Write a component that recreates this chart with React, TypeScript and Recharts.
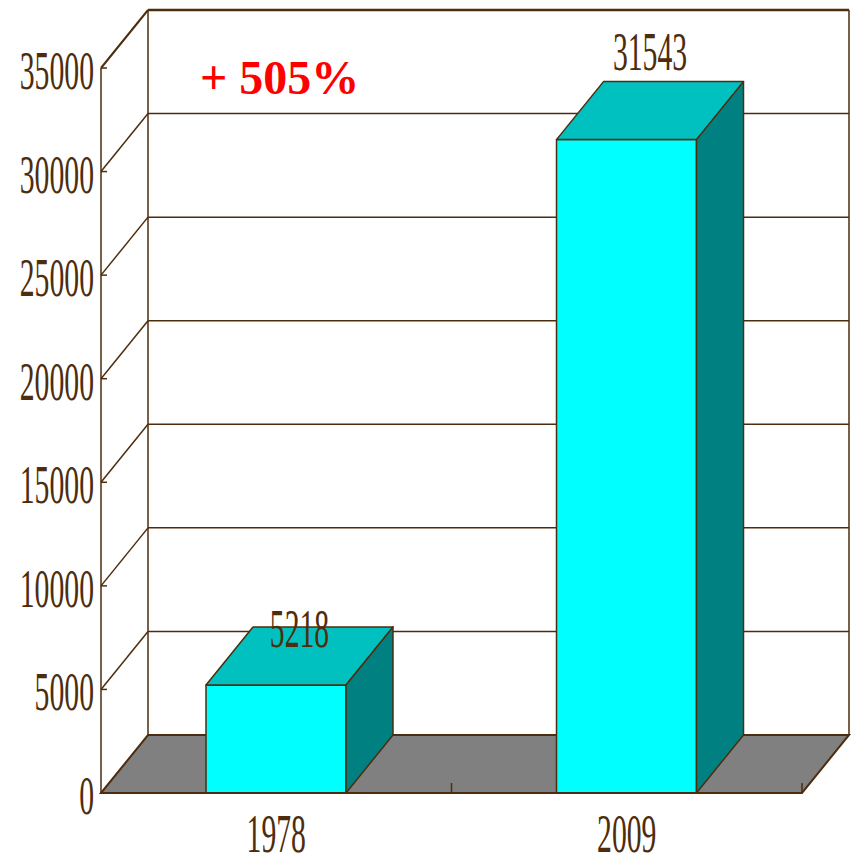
import { Bar, BarChart, CartesianGrid, LabelList, XAxis, YAxis } from 'recharts';

const years = ['1978', '2009'];
const values = [5218, 31543];
const yTicks = [0, 5000, 10000, 15000, 20000, 25000, 30000, 35000];

const data = years.map((year, i) => ({ year, value: values[i] }));

// growth between the first and last year, shown as the red note
const growth = Math.round(((values[values.length - 1] - values[0]) / values[0]) * 100);

const INK = '#4d2d0d';
const FONT = '"Liberation Serif", "Times New Roman", serif';
const SQUEEZE = 0.55; // narrow figures
const DX = 47; // depth of the 3D box, to the right
const DY = -58; // depth of the 3D box, upwards
const labelLift = [38, 70];

const FRONT = '#00ffff';
const TOP = '#00c0c0';
const SIDE = '#008080';
const FLOOR = '#808080';

function WallLine(props: any) {
  const { x1, y1, x2, y2, x, y, width, height } = props;
  const bottom = y + height;
  const isFloor = Math.abs(y1 - bottom) < 0.5;
  const isTop = Math.abs(y1 - y) < 0.5;

  if (isFloor) {
    const step = width / years.length;
    return (
      <g>
        <polygon
          points={`${x1},${y1} ${x1 + DX},${y1 + DY} ${x2 + DX},${y2 + DY} ${x2},${y2}`}
          fill={FLOOR}
          stroke={INK}
          strokeWidth={2}
        />
        {years.map((_, i) => {
          const tx = x + step * (i + 1);
          return <line key={i} x1={tx} y1={y1} x2={tx} y2={y1 - 10} stroke={INK} strokeWidth={1.5} />;
        })}
      </g>
    );
  }

  return (
    <g>
      <line x1={x1} y1={y1} x2={x1 + DX} y2={y1 + DY} stroke={INK} strokeWidth={isTop ? 2 : 1.5} />
      <line x1={x1 + DX} y1={y1 + DY} x2={x2 + DX} y2={y2 + DY} stroke={INK} strokeWidth={isTop ? 2.5 : 1.5} />
      {isTop && (
        <>
          <line x1={x + DX} y1={y + DY} x2={x + DX} y2={bottom + DY} stroke={INK} strokeWidth={1.5} />
          <line x1={x + width + DX} y1={y + DY} x2={x + width + DX} y2={bottom + DY} stroke={INK} strokeWidth={1.5} />
        </>
      )}
    </g>
  );
}

function Box(props: any) {
  const { x, y, width, height } = props;
  return (
    <g stroke={INK} strokeWidth={1.5} strokeLinejoin="round">
      <rect x={x} y={y} width={width} height={height} fill={FRONT} />
      <polygon
        points={`${x},${y} ${x + DX},${y + DY} ${x + width + DX},${y + DY} ${x + width},${y}`}
        fill={TOP}
      />
      <polygon
        points={`${x + width},${y} ${x + width + DX},${y + DY} ${x + width + DX},${y + height + DY} ${x + width},${y + height}`}
        fill={SIDE}
      />
    </g>
  );
}

function BarValue(props: any) {
  const vb = props.viewBox || props;
  const { x, y, width } = vb;
  const i = props.index ?? 0;
  const cx = x + width / 2 + DX / 2;
  return (
    <text
      transform={`translate(${cx},${y - labelLift[i]}) scale(${SQUEEZE},1)`}
      textAnchor="middle"
      fill={INK}
      fontFamily={FONT}
      fontSize={54}
    >
      {props.value}
    </text>
  );
}

function YTick({ x, y, payload }: any) {
  return (
    <g>
      <line x1={x + 7} y1={y} x2={x + 13} y2={y} stroke={INK} strokeWidth={1.5} />
      <text
        transform={`translate(${x},${y + 21}) scale(${SQUEEZE},1)`}
        textAnchor="end"
        fill={INK}
        fontFamily={FONT}
        fontSize={54}
      >
        {payload.value}
      </text>
    </g>
  );
}

function XTick({ x, y, payload }: any) {
  return (
    <text
      transform={`translate(${x},${y + 59}) scale(${SQUEEZE},1)`}
      textAnchor="middle"
      fill={INK}
      fontFamily={FONT}
      fontSize={54}
    >
      {payload.value}
    </text>
  );
}

export default function App() {
  return (
    <div style={{ position: 'absolute', left: 0, top: 0, width: 853, height: 856, background: '#fff' }}>
      <BarChart width={853} height={856} data={data} margin={{ top: 68, right: 51, bottom: 0, left: 0 }}>
        <CartesianGrid vertical={false} horizontal={WallLine} />
        <XAxis
          dataKey="year"
          height={63}
          tickLine={false}
          tickSize={0}
          tickMargin={0}
          axisLine={{ stroke: INK, strokeWidth: 2 }}
          tick={<XTick />}
        />
        <YAxis
          width={101}
          domain={[0, 35000]}
          ticks={yTicks}
          interval={0}
          tickLine={false}
          tickSize={0}
          tickMargin={7}
          axisLine={{ stroke: INK, strokeWidth: 1.5 }}
          tick={<YTick />}
        />
        <Bar dataKey="value" barSize={140} shape={Box} isAnimationActive={false}>
          <LabelList dataKey="value" content={BarValue} />
        </Bar>
      </BarChart>
      <svg width={853} height={856} style={{ position: 'absolute', left: 0, top: 0, pointerEvents: 'none' }}>
        <text x={200} y={94} fill="#ff0000" fontFamily={FONT} fontWeight="bold" fontSize={48}>
          {`+ ${growth}%`}
        </text>
      </svg>
    </div>
  );
}
